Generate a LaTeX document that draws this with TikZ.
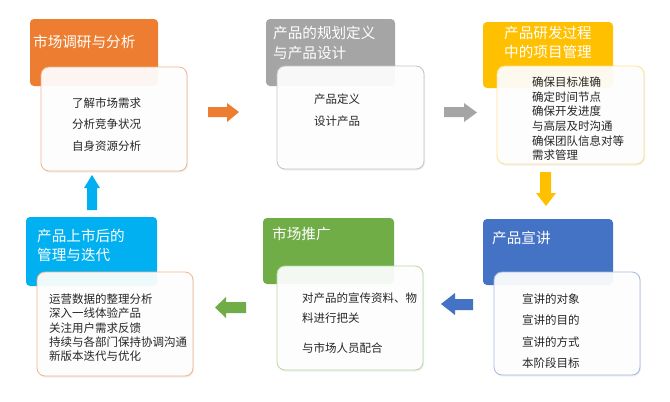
\documentclass[tikz,border=0pt]{standalone}
\usepackage{fontspec}
\setmainfont{Noto Sans CJK SC}
\usetikzlibrary{shadows}
\definecolor{cOrange}{HTML}{ED7D31}
\definecolor{cGray}{HTML}{A5A5A5}
\definecolor{cYellow}{HTML}{FFC000}
\definecolor{cBlue}{HTML}{4472C4}
\definecolor{cGreen}{HTML}{70AD47}
\definecolor{cCyan}{HTML}{00B0F0}
\definecolor{bOrange}{HTML}{F2B48A}
\definecolor{bGray}{HTML}{C4C4C4}
\definecolor{bYellow}{HTML}{FFE08C}
\definecolor{bBlue}{HTML}{A3B8E0}
\definecolor{bGreen}{HTML}{B8D8A2}
\definecolor{txt}{HTML}{262626}
\tikzset{
  head/.style={rounded corners=4pt},
  card/.style={rounded corners=8pt, fill=white, fill opacity=0.93, line width=0.8pt,
    drop shadow={opacity=0.12, shadow xshift=1pt, shadow yshift=-1.5pt}},
  htext/.style={font=\fontsize{14.6}{18}\selectfont, text=white, inner sep=0pt},
  body/.style={font=\fontsize{11.5}{14}\selectfont, text=txt, inner sep=0pt, anchor=west},
  barrow/.style={draw=none}
}
\begin{document}
\begin{tikzpicture}[x=1pt,y=-1pt]
\useasboundingbox (0,0) rectangle (670,402);
\fill[white] (0,0) rectangle (670,402);

% ---------- block 1 ----------
\fill[head, cOrange] (30,19) rectangle (158,86);
\draw[card, draw=bOrange] (41,67) rectangle (187,171);
\node[htext, anchor=west] (h1) at (33,42) {市场调研与分析};
\foreach \t [count=\i] in {了解市场需求, 分析竞争状况, 自身资源分析}
  \node[body] (b1l\i) at (72,{103+21.5*(\i-1)}) {\t};

% ---------- block 2 ----------
\fill[head, cGray] (266,19) rectangle (395,86);
\draw[card, draw=bGray] (277,66) rectangle (424,169);
\node[htext, anchor=west] (h2a) at (273,33) {产品的规划定义};
\node[htext, anchor=west] (h2b) at (273,53) {与产品设计};
\node[body] (b2l1) at (314,99) {产品定义};
\node[body] (b2l2) at (314,121) {设计产品};

% ---------- block 3 ----------
\fill[head, cYellow] (483,22) rectangle (613,88);
\draw[card, draw=bYellow] (497,66) rectangle (644,164);
\node[htext] (h3a) at (548,33) {产品研发过程};
\node[htext] (h3b) at (548,52) {中的项目管理};
\foreach \t [count=\i] in {确保目标准确, 确定时间节点, 确保开发进度, 与高层及时沟通, 确保团队信息对等, 需求管理}
  \node[body] (b3l\i) at (532,{82+14.7*(\i-1)}) {\t};

% ---------- block 4 ----------
\fill[head, cBlue] (483,219) rectangle (613,285);
\draw[card, draw=bBlue] (494,272) rectangle (640,375);
\node[htext, anchor=west] (h4) at (492,238) {产品宣讲};
\foreach \t [count=\i] in {宣讲的对象, 宣讲的目的, 宣讲的方式, 本阶段目标}
  \node[body] (b4l\i) at (522,{299+21.4*(\i-1)}) {\t};

% ---------- block 5 ----------
\fill[head, cGreen] (263,218) rectangle (394,284);
\draw[card, draw=bGreen] (277,266) rectangle (423,370);
\node[htext, anchor=west] (h5) at (272,234) {市场推广};
\node[body] (b5l1) at (302,298) {对产品的宣传资料、物};
\node[body] (b5l2) at (302,318) {料进行把关};
\node[body] (b5l3) at (302,348) {与市场人员配合};

% ---------- block 6 ----------
\fill[head, cCyan] (26,217) rectangle (157,286);
\draw[card, draw=bOrange] (37,272) rectangle (193,376);
\node[htext, anchor=west] (h6a) at (37,236) {产品上市后的};
\node[htext, anchor=west] (h6b) at (37,255) {管理与迭代};
\foreach \t [count=\i] in {运营数据的整理分析, 深入一线体验产品, 关注用户需求反馈, 持续与各部门保持协调沟通, 新版本迭代与优化}
  \node[body] (b6l\i) at (49,{299+14.4*(\i-1)}) {\t};

% ---------- block arrows ----------
% orange, right
\fill[cOrange] (208,107) -- (227,107) -- (227,103) -- (239,112) -- (227,122) -- (227,117) -- (208,117) -- cycle;
% gray, right
\fill[cGray] (444,107) -- (464,107) -- (464,103) -- (477,112.5) -- (464,122) -- (464,117) -- (444,117) -- cycle;
% yellow, down
\fill[cYellow] (540,172) -- (551,172) -- (551,193) -- (556,193) -- (546,206) -- (536,193) -- (540,193) -- cycle;
% blue, left
\fill[cBlue] (473,299) -- (455,299) -- (455,293) -- (441,304) -- (455,315) -- (455,310) -- (473,310) -- cycle;
% green, left
\fill[cGreen] (246,302) -- (226,302) -- (226,297) -- (215,307.5) -- (226,318) -- (226,313) -- (246,313) -- cycle;
% cyan, up
\fill[cCyan] (87,210) -- (97,210) -- (97,188) -- (100,188) -- (92,175) -- (84,188) -- (87,188) -- cycle;
\end{tikzpicture}
\end{document}
